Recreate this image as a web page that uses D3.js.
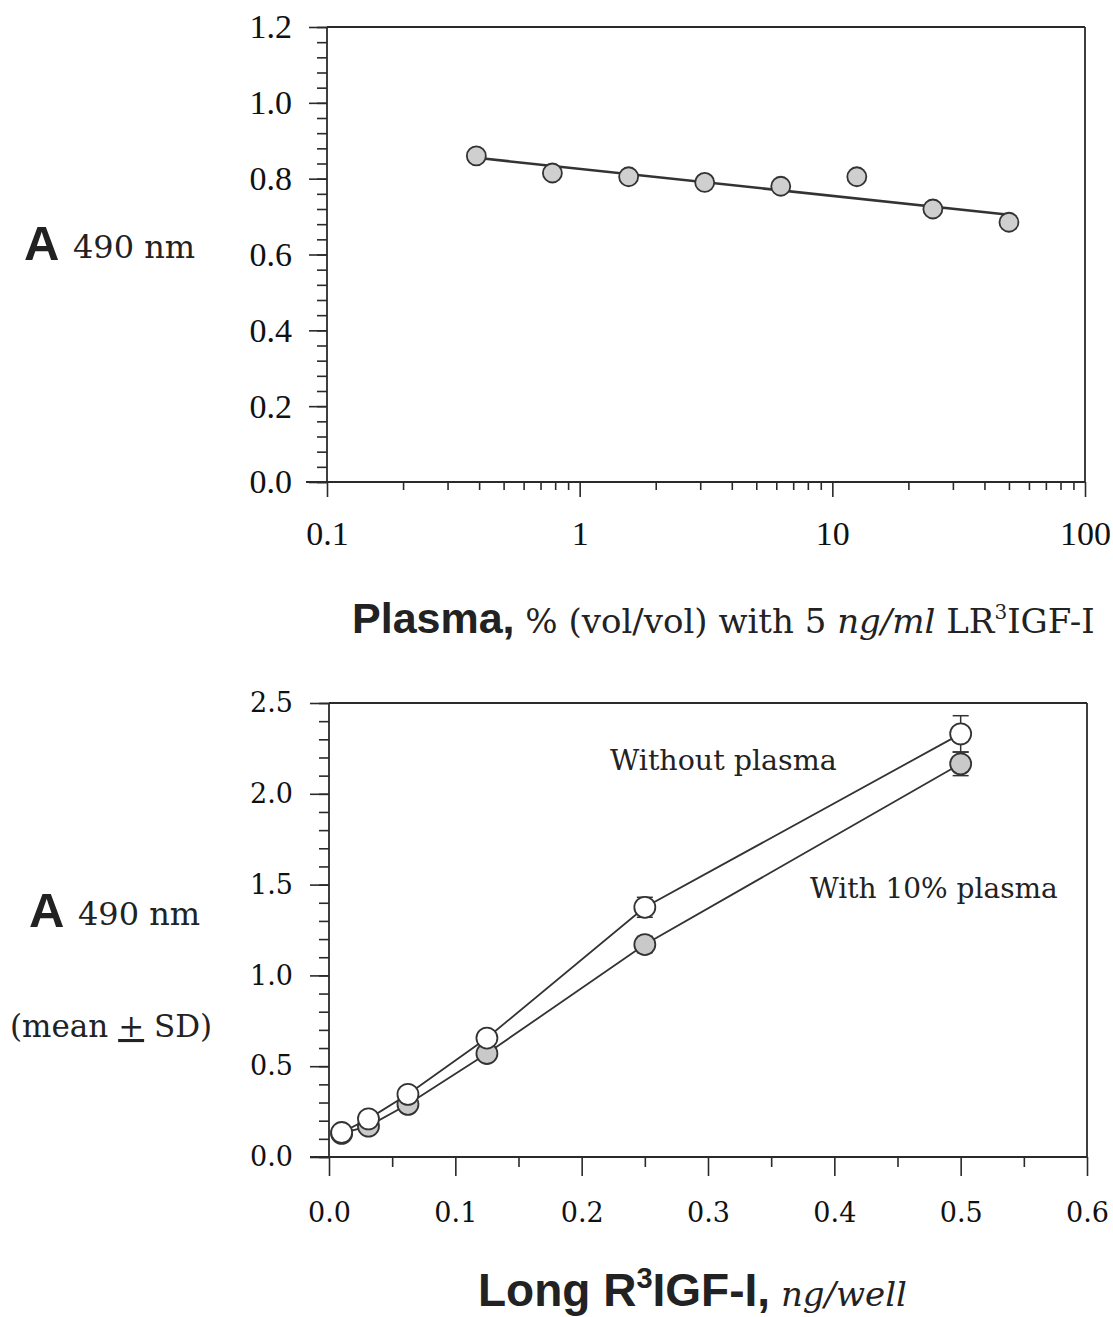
<!DOCTYPE html>
<html>
<head>
<meta charset="utf-8">
<script src="https://cdn.jsdelivr.net/npm/d3@7"></script>
<style>
  body { margin: 0; background: #fff; }
  svg { display: block; }
</style>
</head>
<body>
<script>
// top panel: plasma dilution, log x
const plasmaPct = [0.39, 0.78, 1.5625, 3.125, 6.25, 12.5, 25, 50];
const plasmaAbs = [0.86, 0.815, 0.805, 0.79, 0.78, 0.805, 0.72, 0.685];
const fitPct = [0.39, 50];
const fitAbs = [0.855, 0.705];
const topYTicks = [0, 0.2, 0.4, 0.6, 0.8, 1.0, 1.2];
const topXTicks = [0.1, 1, 10, 100];
const topXLabels = ["0.1", "1", "10", "100"];

// bottom panel: dose response
const dose = [0.01, 0.03125, 0.0625, 0.125, 0.25, 0.5];
const noPlasmaMean = [0.135, 0.21, 0.345, 0.655, 1.375, 2.33];
const noPlasmaSD = [0.01, 0.01, 0.01, 0.02, 0.055, 0.1];
const withPlasmaMean = [0.13, 0.17, 0.29, 0.57, 1.17, 2.165];
const withPlasmaSD = [0.01, 0.01, 0.01, 0.02, 0.045, 0.065];
const botYTicks = [0, 0.5, 1.0, 1.5, 2.0, 2.5];
const botXTicks = [0, 0.1, 0.2, 0.3, 0.4, 0.5, 0.6];

const INK = "#2a2a2a";
const SERIF = "'DejaVu Serif', serif";
const TIMES = "'Liberation Serif', serif";
const SANS = "'Liberation Sans', Arial, sans-serif";

let svg = d3.select("body").append("svg")
  .attr("width", 1113)
  .attr("height", 1317);

function styleAxis(g, font, size) {
  g.select(".domain").remove();
  g.attr("font-family", font).attr("font-size", size);
  g.selectAll("line").attr("stroke", INK).attr("stroke-width", 1.6);
  g.selectAll("text").attr("fill", "#111");
}

function frameLine(x1, y1, x2, y2) {
  svg.append("line")
    .attr("x1", x1).attr("y1", y1).attr("x2", x2).attr("y2", y2)
    .attr("stroke", INK)
    .attr("stroke-width", 1.8);
}

function drawTop() {
  let x = d3.scaleLog().domain([0.1, 100]).range([327, 1085]);
  let y = d3.scaleLinear().domain([0, 1.2]).range([482, 27]);

  // minor ticks
  let minorY = d3.range(0, 1.2001, 0.04);
  svg.append("g")
    .attr("transform", "translate(327,0)")
    .call(d3.axisLeft(y).tickValues(minorY).tickSize(10).tickFormat(""))
    .call(g => styleAxis(g, TIMES, 34));
  svg.append("g")
    .attr("transform", "translate(327,0)")
    .call(d3.axisLeft(y).tickValues(topYTicks).tickSize(18).tickPadding(17)
      .tickFormat(d3.format(".1f")))
    .call(g => styleAxis(g, TIMES, 34));

  let minorX = [];
  [0.1, 1, 10].forEach(function(dec) {
    for (let k = 2; k <= 9; k++) minorX.push(dec * k);
  });
  svg.append("g")
    .attr("transform", "translate(0,482)")
    .call(d3.axisBottom(x).tickValues(minorX).tickSize(8).tickFormat(""))
    .call(g => styleAxis(g, TIMES, 34));
  svg.append("g")
    .attr("transform", "translate(0,482)")
    .call(d3.axisBottom(x).tickValues(topXTicks).tickSize(15).tickPadding(24)
      .tickFormat(function(d, i) { return topXLabels[i]; }))
    .call(g => styleAxis(g, TIMES, 34));

  frameLine(327, 27, 327, 482);
  frameLine(306, 482, 1085, 482);
  frameLine(327, 27, 1085, 27);
  frameLine(1085, 27, 1085, 482);

  let fit = fitPct.map(function(d, i) { return { x: d, y: fitAbs[i] }; });
  svg.append("path")
    .datum(fit)
    .attr("fill", "none")
    .attr("stroke", "#333")
    .attr("stroke-width", 2.6)
    .attr("d", d3.line().x(d => x(d.x)).y(d => y(d.y)));

  svg.append("g")
    .selectAll("circle")
    .data(plasmaPct)
    .enter()
    .append("circle")
    .attr("cx", d => x(d))
    .attr("cy", (d, i) => y(plasmaAbs[i]))
    .attr("r", 9.5)
    .attr("fill", "#cfcfcf")
    .attr("stroke", "#333")
    .attr("stroke-width", 1.8);

  // y label
  svg.append("text")
    .attr("x", 24).attr("y", 260)
    .attr("font-family", SANS).attr("font-weight", "bold").attr("font-size", 49)
    .attr("fill", "#222")
    .text("A");
  svg.append("text")
    .attr("x", 73).attr("y", 258)
    .attr("font-family", SERIF).attr("font-size", 32)
    .attr("fill", "#222")
    .text("490 nm");

  // x label
  let t = svg.append("text")
    .attr("x", 352).attr("y", 633)
    .attr("fill", "#222");
  t.append("tspan")
    .attr("font-family", SANS).attr("font-weight", "bold").attr("font-size", 43)
    .text("Plasma,");
  t.append("tspan")
    .attr("font-family", SERIF).attr("font-size", 34)
    .text(" % (vol/vol) with 5 ");
  t.append("tspan")
    .attr("font-family", SERIF).attr("font-size", 34).attr("font-style", "italic")
    .text("ng/ml");
  t.append("tspan")
    .attr("font-family", SERIF).attr("font-size", 34)
    .text(" LR");
  t.append("tspan")
    .attr("font-family", SERIF).attr("font-size", 20).attr("dy", -14)
    .text("3");
  t.append("tspan")
    .attr("font-family", SERIF).attr("font-size", 34).attr("dy", 14)
    .text("IGF-I");
}

function drawBottom() {
  let x = d3.scaleLinear().domain([0, 0.6]).range([329, 1087]);
  let y = d3.scaleLinear().domain([0, 2.5]).range([1157, 703]);

  svg.append("g")
    .attr("transform", "translate(329,0)")
    .call(d3.axisLeft(y).tickValues(d3.range(0, 2.5001, 0.1)).tickSize(10).tickFormat(""))
    .call(g => styleAxis(g, SERIF, 27));
  svg.append("g")
    .attr("transform", "translate(329,0)")
    .call(d3.axisLeft(y).tickValues(botYTicks).tickSize(19).tickPadding(17)
      .tickFormat(d3.format(".1f")))
    .call(g => styleAxis(g, SERIF, 27));

  svg.append("g")
    .attr("transform", "translate(0,1157)")
    .call(d3.axisBottom(x).tickValues([0.05, 0.15, 0.25, 0.35, 0.45, 0.55]).tickSize(10).tickFormat(""))
    .call(g => styleAxis(g, SERIF, 27));
  svg.append("g")
    .attr("transform", "translate(0,1157)")
    .call(d3.axisBottom(x).tickValues(botXTicks).tickSize(19).tickPadding(27)
      .tickFormat(d3.format(".1f")))
    .call(g => styleAxis(g, SERIF, 27));

  frameLine(329, 703, 329, 1157);
  frameLine(310, 1157, 1087, 1157);
  frameLine(329, 703, 1087, 703);
  frameLine(1087, 703, 1087, 1157);

  let line = d3.line().x(d => x(d.x)).y(d => y(d.y));

  function series(means, sds, fill) {
    let pts = dose.map(function(d, i) { return { x: d, y: means[i], sd: sds[i] }; });
    let g = svg.append("g");
    g.append("path")
      .datum(pts)
      .attr("fill", "none")
      .attr("stroke", "#333")
      .attr("stroke-width", 1.8)
      .attr("d", line);
    let eb = g.selectAll(".eb").data(pts).enter().append("g");
    eb.append("line")
      .attr("x1", d => x(d.x)).attr("x2", d => x(d.x))
      .attr("y1", d => y(d.y - d.sd)).attr("y2", d => y(d.y + d.sd))
      .attr("stroke", "#333").attr("stroke-width", 1.5);
    [-1, 1].forEach(function(s) {
      eb.append("line")
        .attr("x1", d => x(d.x) - 8).attr("x2", d => x(d.x) + 8)
        .attr("y1", d => y(d.y + s * d.sd)).attr("y2", d => y(d.y + s * d.sd))
        .attr("stroke", "#333").attr("stroke-width", 1.5);
    });
    g.selectAll("circle").data(pts).enter().append("circle")
      .attr("cx", d => x(d.x))
      .attr("cy", d => y(d.y))
      .attr("r", 10.5)
      .attr("fill", fill)
      .attr("stroke", "#333")
      .attr("stroke-width", 1.8);
  }

  series(withPlasmaMean, withPlasmaSD, "#c9c9c9");
  series(noPlasmaMean, noPlasmaSD, "#ffffff");

  svg.append("text")
    .attr("x", 610).attr("y", 770)
    .attr("font-family", SERIF).attr("font-size", 28.5)
    .attr("fill", "#222")
    .text("Without plasma");
  svg.append("text")
    .attr("x", 810).attr("y", 898)
    .attr("font-family", SERIF).attr("font-size", 28)
    .attr("fill", "#222")
    .text("With 10% plasma");

  // y label
  svg.append("text")
    .attr("x", 29).attr("y", 927)
    .attr("font-family", SANS).attr("font-weight", "bold").attr("font-size", 49)
    .attr("fill", "#222")
    .text("A");
  svg.append("text")
    .attr("x", 78).attr("y", 925)
    .attr("font-family", SERIF).attr("font-size", 32)
    .attr("fill", "#222")
    .text("490 nm");
  let m = svg.append("text")
    .attr("x", 10).attr("y", 1037)
    .attr("font-family", SERIF).attr("font-size", 31)
    .attr("fill", "#222");
  m.append("tspan").text("(mean ");
  m.append("tspan").attr("text-decoration", "underline").text("+");
  m.append("tspan").text(" SD)");

  // x label
  let t = svg.append("text")
    .attr("x", 478).attr("y", 1306)
    .attr("fill", "#222");
  t.append("tspan")
    .attr("font-family", SANS).attr("font-weight", "bold").attr("font-size", 46)
    .text("Long R");
  t.append("tspan")
    .attr("font-family", SANS).attr("font-weight", "bold").attr("font-size", 29).attr("dy", -18)
    .text("3");
  t.append("tspan")
    .attr("font-family", SANS).attr("font-weight", "bold").attr("font-size", 46).attr("dy", 18)
    .text("IGF-I,");
  t.append("tspan")
    .attr("font-family", SERIF).attr("font-size", 34).attr("font-style", "italic")
    .text(" ng/well");
}

drawTop();
drawBottom();
</script>
</body>
</html>
